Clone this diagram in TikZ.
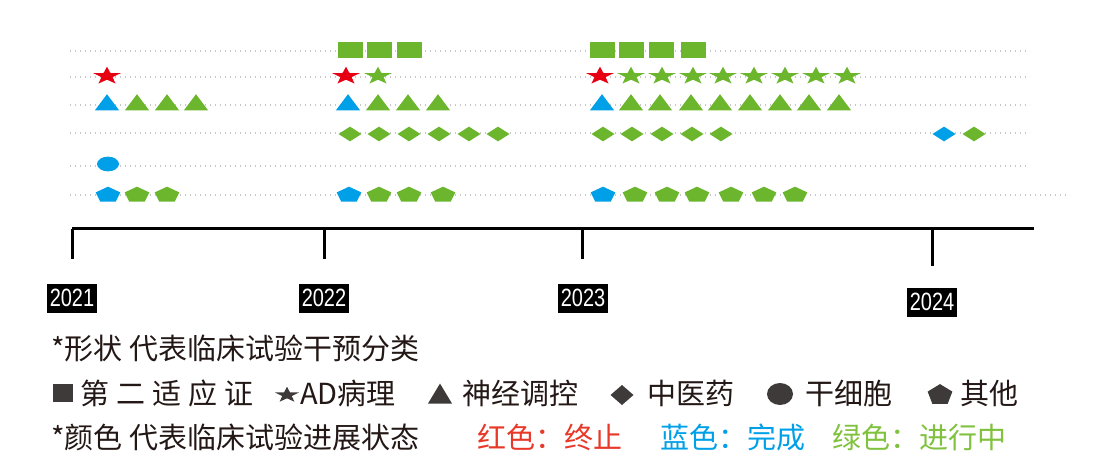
\documentclass[tikz,border=0pt]{standalone}
\usepackage{fontspec}
\setmainfont{Noto Sans CJK SC}
\newfontfamily\yearfont[FakeStretch=0.8]{Liberation Sans}
\usetikzlibrary{shapes.geometric}
\definecolor{grn}{RGB}{108,182,46}
\definecolor{blu}{RGB}{0,160,233}
\definecolor{rd}{RGB}{230,0,18}
\definecolor{mkgray}{RGB}{62,58,57}
\definecolor{txtblack}{RGB}{35,24,21}
\definecolor{txtred}{RGB}{232,56,40}
\definecolor{txtgrn}{RGB}{128,194,62}

\begin{document}
\begin{tikzpicture}[
    x=1pt, y=-1pt,
    mk/.style={inner sep=0pt, outer sep=0pt, yscale=0.64},
    sq/.style={mk, fill=#1, rectangle, minimum width=25pt, minimum height=25pt},
    st/.style={mk, fill=#1, star, star points=5, star point ratio=2.5, minimum size=29pt},
    tri/.style={inner sep=0pt, outer sep=0pt, yscale=0.77, fill=#1, regular polygon, regular polygon sides=3, minimum size=28pt},
    dia/.style={mk, fill=#1, diamond, minimum width=23pt, minimum height=23pt},
    oval/.style={mk, fill=#1, ellipse, minimum width=22pt, minimum height=23pt},
    pent/.style={mk, fill=#1, regular polygon, regular polygon sides=5, minimum size=26pt},
    lgmk/.style={fill=mkgray, inner sep=0pt, outer sep=0pt},
    guide/.style={draw=gray!45, line width=1.3pt, dash pattern=on 1.3pt off 3.7pt},
    yr/.style={fill=black, text=white, inner sep=0pt, minimum width=50pt, minimum height=29pt, font=\yearfont\fontsize{25}{28}\selectfont},
    lg/.style={anchor=west, inner sep=0pt, text=txtblack, font=\fontsize{29}{34}\selectfont}
]
\useasboundingbox (0,0) rectangle (1094,470);
% dotted guide lines
\foreach \gy in {51,77,105,133,166}
    \draw[guide] (70,\gy) -- (1030,\gy);
\draw[guide] (70,195) -- (1070,195);
% 第二适应证
\foreach \x in {350,379,409,602,631,661,693}
    \node[sq=grn] (sq\x) at (\x,50) {};
% AD病理
\foreach \x in {107,346,600}
    \node[st=rd] (st\x) at (\x,76) {};
\foreach \x in {378,631,662,693,723,754,785,816,847}
    \node[st=grn] (st\x) at (\x,76) {};
% 神经调控
\foreach \x in {107,348,602}
    \node[tri=blu] (tri\x) at (\x,105) {};
\foreach \x in {137,167,196,378,408,438,631,660,691,720,750,780,809,839}
    \node[tri=grn] (tri\x) at (\x,105) {};
% 中医药
\foreach \x in {350,379,409,439,469,498,603,632,662,692,721,974}
    \node[dia=grn] (dia\x) at (\x,134) {};
\node[dia=blu] (dia944) at (944,134) {};
% 干细胞
\node[oval=blu] (ov108) at (108,164) {};
% 其他
\foreach \x in {108,349,603}
    \node[pent=blu] (pent\x) at (\x,195) {};
\foreach \x in {137,167,379,409,443,635,667,697,731,764,795}
    \node[pent=grn] (pent\x) at (\x,195) {};
% 时间轴
\coordinate (ax0) at (72,229);
\coordinate (ax1) at (1034,229);
\draw[line width=3pt] (ax0) -- (ax1);
\foreach \yy/\x/\len in {2021/72/30, 2022/324/30, 2023/582/30, 2024/932/37} {
    \coordinate (tk\yy) at (\x,229);
    \coordinate (te\yy) at (\x,229+\len);
    \draw[line width=3pt] (tk\yy) -- (te\yy);
}
\node[yr] (y2021) at (72,298) {2021};
\node[yr] (y2022) at (324,298) {2022};
\node[yr] (y2023) at (583,298) {2023};
\node[yr] (y2024) at (932,302) {2024};
% 图例
\node[lg] (cap1) at (51,348) {*形状 代表临床试验干预分类};
\node[lgmk, minimum width=20pt, minimum height=18pt] (lsq) at (63,393) {};
\node[lg, font=\fontsize{29}{34}\selectfont\addfontfeature{LetterSpace=24}] (l1) at (80,393) {第二适应证};
\node[lgmk, star, star points=5, star point ratio=2.5, minimum size=25pt, yscale=0.66] (lst) at (287,395) {};
\node[lg] (l2) at (300,393) {AD病理};
\node[lgmk, regular polygon, regular polygon sides=3, minimum size=28pt, yscale=0.96] (ltri) at (440,397) {};
\node[lg] (l3) at (462,393) {神经调控};
\node[lgmk, diamond, minimum width=23pt, minimum height=20pt] (ldia) at (622,395) {};
\node[lg] (l4) at (647,393) {中医药};
\node[lgmk, ellipse, minimum width=26pt, minimum height=22pt] (lov) at (780,394) {};
\node[lg] (l5) at (805,393) {干细胞};
\node[lgmk, regular polygon, regular polygon sides=5, minimum size=26pt, yscale=0.84] (lpent) at (940,395) {};
\node[lg] (l6) at (960,393) {其他};
\node[lg] (cap2) at (51,437) {*颜色 代表临床试验进展状态};
\node[lg, text=txtred] (s1) at (477,437) {红色：终止};
\node[lg, text=blu] (s2) at (660,437) {蓝色：完成};
\node[lg, text=txtgrn] (s3) at (832,437) {绿色：进行中};
\end{tikzpicture}
\end{document}
